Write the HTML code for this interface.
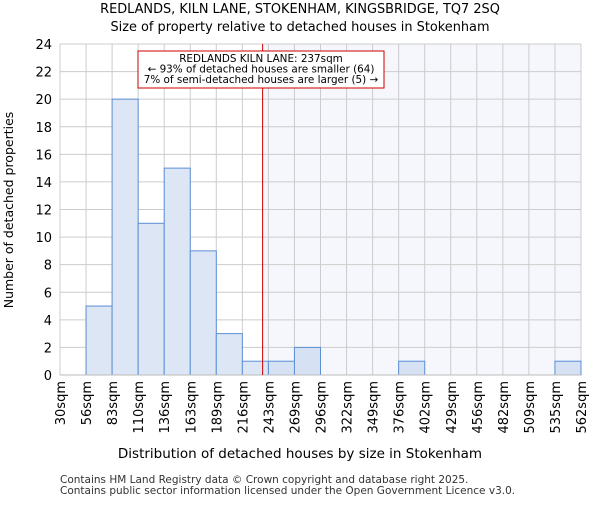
<!DOCTYPE html>
<html><head><meta charset="utf-8"><style>body{margin:0;background:#fff}svg{font-family:"DejaVu Sans","Liberation Sans",sans-serif}</style></head>
<body>
<svg id="c" width="600" height="500" viewBox="0 0 600 500">
<text x="300" y="13" font-size="12.9" text-anchor="middle">REDLANDS, KILN LANE, STOKENHAM, KINGSBRIDGE, TQ7 2SQ</text>
<text x="300" y="31" font-size="12.9" text-anchor="middle">Size of property relative to detached houses in Stokenham</text>
<g id="plot"></g>
<text x="300" y="458" font-size="13.5" text-anchor="middle">Distribution of detached houses by size in Stokenham</text>
<text transform="translate(13,210) rotate(-90)" font-size="12.5" text-anchor="middle">Number of detached properties</text>
<text x="60" y="483" font-size="10.5" fill="#333">Contains HM Land Registry data © Crown copyright and database right 2025.</text>
<text x="60" y="494" font-size="10.5" fill="#333">Contains public sector information licensed under the Open Government Licence v3.0.</text>
</svg>
<script>
const binEdges=[30,56,83,110,136,163,189,216,243,269,296,322,349,376,402,429,456,482,509,535,562];
const counts=[0,5,20,11,15,9,3,1,1,2,0,0,0,1,0,0,0,0,0,1];
const yTicks=[0,2,4,6,8,10,12,14,16,18,20,22,24];
const propertySize=237;
const X0=60,X1=581,Y0=375,Y1=44,YMAX=24;
const ns="http://www.w3.org/2000/svg";
const g=document.getElementById('plot');
const nb=counts.length,bw=(X1-X0)/nb;
function xi(i){return X0+i*bw;}
function xv(v){for(let i=0;i<binEdges.length-1;i++){if(v<=binEdges[i+1])return xi(i)+(v-binEdges[i])/(binEdges[i+1]-binEdges[i])*bw;}return X1;}
function y(v){return Y0-(v/YMAX)*(Y0-Y1);}
function mk(t,a){const e=document.createElementNS(ns,t);for(const k in a)e.setAttribute(k,a[k]);g.appendChild(e);return e;}
const lx=xv(propertySize);
let e=mk('rect',{x:lx,y:Y1,width:X1-lx,height:Y0-Y1,fill:'#f5f7fd'});


yTicks.forEach(t=>{let l=mk('line',{x1:X0,x2:X1,y1:y(t),y2:y(t),stroke:'#ccc','stroke-width':1});


let tx=mk('text',{x:X0-8,y:y(t)+5,'font-size':13,'text-anchor':'end'});tx.textContent=t;

});
binEdges.forEach((b,i)=>{let l=mk('line',{x1:xi(i),x2:xi(i),y1:Y1,y2:Y0,stroke:'#ccc','stroke-width':1});


let tx=mk('text',{transform:`translate(${xi(i)+5},${Y0+6}) rotate(-90)`,'font-size':13,'text-anchor':'end'});tx.textContent=b+'sqm';

});
counts.forEach((c,i)=>{if(!c)return;const bx=xi(i);let r=mk('rect',{x:bx,y:y(c),width:bw,height:Y0-y(c),fill:bx>=lx?'#d6e1f3':'#dde6f4',stroke:'#5b8fd6','stroke-width':1});

});
let ax=mk('line',{x1:X0,x2:X1,y1:Y0,y2:Y0,stroke:'#bbb'});


let rl=mk('line',{x1:lx,x2:lx,y1:Y1,y2:Y0,stroke:'#cc0000','stroke-width':1});


let bx=mk('rect',{x:138,y:51,width:246,height:37,fill:'#fff',stroke:'#cc0000','stroke-width':1});


['REDLANDS KILN LANE: '+propertySize+'sqm','← 93% of detached houses are smaller (64)','7% of semi-detached houses are larger (5) →'].forEach((s,i)=>{let t=mk('text',{x:261,y:62+i*10.5,'font-size':10.4,'text-anchor':'middle'});t.textContent=s;

});
</script>
</body></html>
